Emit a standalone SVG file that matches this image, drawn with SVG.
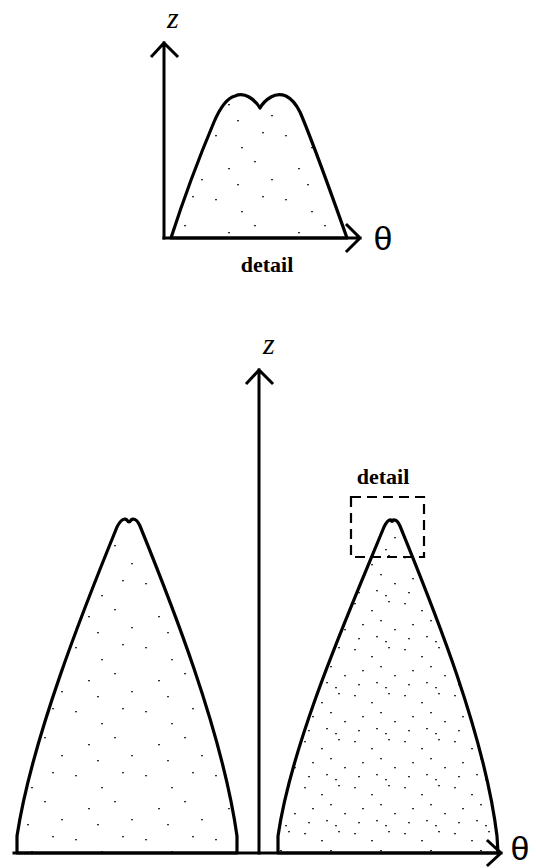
<svg xmlns="http://www.w3.org/2000/svg" width="536" height="868" viewBox="0 0 536 868">
<style>
.ax{fill:none;stroke:#000;stroke-width:3;stroke-linecap:square}
.cv{stroke:#000;stroke-width:3.2;stroke-linejoin:round}
.lbl{font-family:"Liberation Serif",serif;fill:#000}
.th{font-family:"Liberation Sans",sans-serif;font-size:34px;fill:#000}
.dash{fill:none;stroke:#000;stroke-width:2.2;stroke-dasharray:10 6}
</style>
<defs>
<pattern id="sp1" patternUnits="userSpaceOnUse" width="70" height="64">
<rect x="5" y="7" width="2" height="1.3" fill="#333"/>
<rect x="31" y="19" width="2" height="1.3" fill="#333"/>
<rect x="52" y="4" width="2" height="1.3" fill="#333"/>
<rect x="18" y="40" width="2" height="1.3" fill="#333"/>
<rect x="44" y="33" width="2" height="1.3" fill="#333"/>
<rect x="61" y="51" width="2" height="1.3" fill="#333"/>
<rect x="27" y="56" width="2" height="1.3" fill="#333"/>
</pattern>
<pattern id="sp2" patternUnits="userSpaceOnUse" width="50" height="46">
<rect x="4" y="5" width="2" height="1.3" fill="#333"/>
<rect x="21" y="12" width="2" height="1.3" fill="#333"/>
<rect x="38" y="3" width="2" height="1.3" fill="#333"/>
<rect x="12" y="26" width="2" height="1.3" fill="#333"/>
<rect x="30" y="22" width="2" height="1.3" fill="#333"/>
<rect x="44" y="31" width="2" height="1.3" fill="#333"/>
<rect x="8" y="40" width="2" height="1.3" fill="#333"/>
<rect x="26" y="38" width="2" height="1.3" fill="#333"/>
<rect x="35" y="43" width="2" height="1.3" fill="#333"/>
</pattern>
</defs>

<g id="detail-plot">
<path id="detail-curve" class="cv" fill="url(#sp1)" d="M171,238 C180,210 198,160 214,122 C220,108 227,98 235,96 Q242,93 249,97 Q256,101 260,108 Q264,101 271,97 Q278,93 286,96 Q294,100 300,112 C312,140 330,190 347,238 Z"/>
<text class="lbl" x="167" y="28" font-size="30" font-style="italic">z</text>
<text class="th" x="383" y="250" text-anchor="middle">θ</text>
<text class="lbl" x="267" y="272" font-size="22" font-weight="bold" text-anchor="middle">detail</text>
</g>

<g id="left-peak">
<path class="cv" fill="url(#sp1)" d="M17,853 L17,836 C32,738 84,608 117,527 Q121,519 125,519 L127,520 Q129,524 131,520 L133,519 Q137,519 140,526 C170,600 222,730 237,836 L237,853 Z"/>
</g>

<g id="right-peak">
<path class="cv" fill="url(#sp2)" d="M278,853 L278,836 C292,740 350,610 384,527 Q388,519 391,520 Q392,523 393,520 Q397,519 400,526 C430,600 484,730 497,836 L498,853 Z"/>
</g>

<g id="detail-box">
<rect class="dash" x="351" y="497" width="73" height="60"/>
<text class="lbl" x="383" y="484" font-size="22" font-weight="bold" text-anchor="middle">detail</text>
</g>

<g id="main-axes">
<text class="lbl" x="263" y="354" font-size="30" font-style="italic">z</text>
<text class="th" x="520" y="860" font-size="30px" text-anchor="middle">θ</text>
</g>

<g id="connectors">
<path class="ax" d="M164,238 L164,43 M152,56 L164,43 L177,56"/>
<path class="ax" d="M164,238 L360,238 M347,225 L360,238 L347,251"/>
<path class="ax" d="M259,853 L259,370 M247,383 L259,370 L272,383"/>
<path class="ax" d="M14,853 L501,853 M488,841 L501,853 L488,865"/>
</g>
</svg>
